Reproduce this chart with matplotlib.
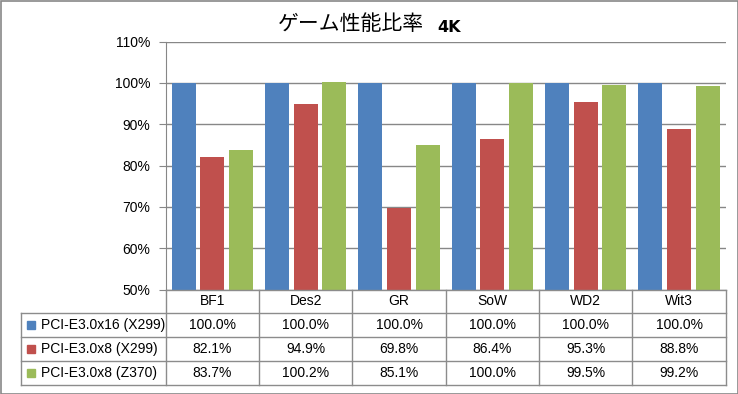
import matplotlib
matplotlib.use('Agg')
import matplotlib.pyplot as plt
from matplotlib.patches import Rectangle

plt.rcParams['font.family'] = ['Liberation Sans', 'Noto Sans CJK JP', 'DejaVu Sans']

# datos
games = ['BF1', 'Des2', 'GR', 'SoW', 'WD2', 'Wit3']
series_names = ['PCI-E3.0x16 (X299)', 'PCI-E3.0x8 (X299)', 'PCI-E3.0x8 (Z370)']
x16_x299 = [100.0, 100.0, 100.0, 100.0, 100.0, 100.0]
x8_x299 = [82.1, 94.9, 69.8, 86.4, 95.3, 88.8]
x8_z370 = [83.7, 100.2, 85.1, 100.0, 99.5, 99.2]
series = [x16_x299, x8_x299, x8_z370]
colors = ['#4F81BD', '#C0504D', '#9BBB59']
yticks = [50, 60, 70, 80, 90, 100, 110]

W, H = 738, 394
grid_c = '#878787'
line_c = '#8C8C8C'

fig = plt.figure(figsize=(W / 100, H / 100), dpi=100)

# area del grafico (en pixeles)
left, right, top, bottom = 165.7, 725.7, 41.7, 289.5
ax = fig.add_axes([left / W, (H - bottom) / H, (right - left) / W, (bottom - top) / H])

bar_w = 0.257
step = 0.307
for k, vals in enumerate(series):
    xs = [i + 0.5 + (k - 1) * step for i in range(len(games))]
    ax.bar(xs, vals, width=bar_w, color=colors[k], zorder=2)

ax.set_xlim(0, len(games))
ax.set_ylim(50, 110)
ax.set_yticks(yticks)
ax.set_yticklabels([f'{v}%' for v in yticks], fontsize=10)
ax.set_xticks([])
ax.yaxis.grid(True, color=grid_c, linewidth=1)
ax.set_axisbelow(True)
for s in ['top', 'right', 'bottom']:
    ax.spines[s].set_visible(False)
ax.spines['left'].set_color(grid_c)
ax.tick_params(axis='y', length=5, color=grid_c, pad=6)

# tabla de datos
ov = fig.add_axes([0, 0, 1, 1])
ov.set_xlim(0, W)
ov.set_ylim(H, 0)
ov.axis('off')
ov.patch.set_alpha(0)

row_h = 23.8
col_w = (right - left) / len(games)
leg_left = 21.3
n_rows = len(series)
tbl_bottom = bottom + row_h * (n_rows + 1)

ov.plot([left, right], [bottom, bottom], color=line_c, lw=1)
for k in range(1, n_rows + 2):
    y = bottom + k * row_h
    ov.plot([leg_left, right], [y, y], color=line_c, lw=1)
for i in range(len(games) + 1):
    x = left + i * col_w
    ov.plot([x, x], [bottom, tbl_bottom], color=line_c, lw=1)
ov.plot([leg_left, leg_left], [bottom + row_h, tbl_bottom], color=line_c, lw=1)

for i, g in enumerate(games):
    ov.text(left + (i + 0.5) * col_w, bottom + row_h / 2, g,
            ha='center', va='center', fontsize=10)

for k, vals in enumerate(series):
    yc = bottom + (k + 1.5) * row_h
    ov.add_patch(Rectangle((26.7, yc - 4), 8, 8, color=colors[k]))
    ov.text(40.7, yc, series_names[k], ha='left', va='center', fontsize=10)
    for i, v in enumerate(vals):
        ov.text(left + (i + 0.5) * col_w, yc, f'{v:.1f}%',
                ha='center', va='center', fontsize=10)

# titulo
ov.text(424, 24, 'ゲーム性能比率', ha='right', va='center', fontsize=15,
        family=['Noto Sans CJK JP', 'DejaVu Sans'])
ov.text(437, 32.3, '4K', ha='left', va='baseline', fontsize=11.5,
        fontweight='bold', family=['DejaVu Sans'])

# borde exterior
ov.add_patch(Rectangle((0.5, 0.5), W - 1, H - 1, fill=False,
                       edgecolor=grid_c, lw=1.2))

fig.savefig('out.png', dpi=100)
